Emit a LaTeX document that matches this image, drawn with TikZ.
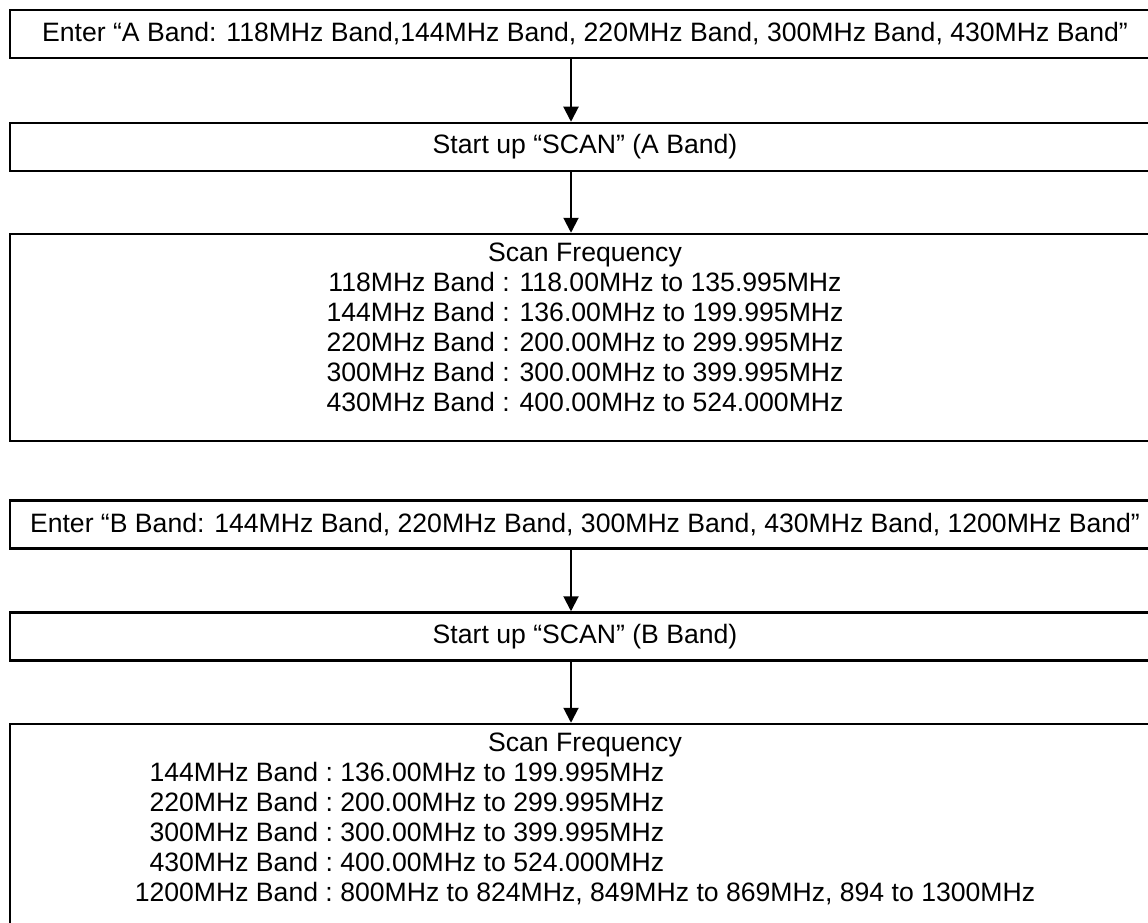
\documentclass[tikz,border=0pt]{standalone}
\usepackage{fontspec}
\setmainfont{Liberation Sans}
\usetikzlibrary{arrows.meta,positioning}

\begin{document}
\begin{tikzpicture}[x=1pt, y=-1pt,
    bandbox/.style={draw, line width=2.5pt, minimum width=1150pt, minimum height=48pt, inner sep=0pt, font=\fontsize{26.6}{30}\selectfont},
    listtext/.style={anchor=north, align=center, inner sep=0pt, font=\fontsize{26.6}{30}\selectfont},
    arrow/.style={-{Triangle[length=15pt, width=15pt]}, line width=2pt}
]
\useasboundingbox (0,0) rectangle (1148,923);

% === A Band ===
\node[bandbox] (enterA) at (585, 34) {Enter “A Band: 118MHz Band,144MHz Band, 220MHz Band, 300MHz Band, 430MHz Band”};
\node[bandbox] (scanA) at (585, 147) {Start up “SCAN” (A Band)};
\node[bandbox, minimum height=207pt] (freqA) at (585, 337.5) {};
\node[listtext, below=9.5pt of freqA.north] (listA) {Scan Frequency\\
    118MHz Band : 118.00MHz to 135.995MHz\\
    144MHz Band : 136.00MHz to 199.995MHz\\
    220MHz Band : 200.00MHz to 299.995MHz\\
    300MHz Band : 300.00MHz to 399.995MHz\\
    430MHz Band : 400.00MHz to 524.000MHz};

\draw[arrow] ([xshift=-14pt]enterA.south) -- ([xshift=-14pt]scanA.north);
\draw[arrow] ([xshift=-14pt]scanA.south) -- ([xshift=-14pt]freqA.north);

% === B Band ===
\node[bandbox] (enterB) at (585, 524.5) {Enter “B Band: 144MHz Band, 220MHz Band, 300MHz Band, 430MHz Band, 1200MHz Band”};
\node[bandbox] (scanB) at (585, 636.5) {Start up “SCAN” (B Band)};
\node[bandbox, minimum height=207pt] (freqB) at (585, 827.5) {};
\node[listtext, below=9.5pt of freqB.north] (listB) {Scan Frequency\\
    \begin{tabular}[t]{@{}r@{\ :\ }l@{}}
    144MHz Band & 136.00MHz to 199.995MHz\\
    220MHz Band & 200.00MHz to 299.995MHz\\
    300MHz Band & 300.00MHz to 399.995MHz\\
    430MHz Band & 400.00MHz to 524.000MHz\\
    1200MHz Band & 800MHz to 824MHz, 849MHz to 869MHz, 894 to 1300MHz
    \end{tabular}};

\draw[arrow] ([xshift=-14pt]enterB.south) -- ([xshift=-14pt]scanB.north);
\draw[arrow] ([xshift=-14pt]scanB.south) -- ([xshift=-14pt]freqB.north);

\end{tikzpicture}
\end{document}
